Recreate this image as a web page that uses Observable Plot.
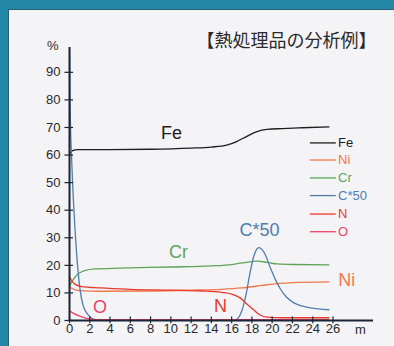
<!DOCTYPE html>
<html>
<head>
<meta charset="utf-8">
<script src="https://cdn.jsdelivr.net/npm/d3@7"></script>
<script src="https://cdn.jsdelivr.net/npm/@observablehq/plot@0.6"></script>
<style>
  html, body { margin: 0; padding: 0; width: 394px; height: 346px; overflow: hidden; }
  body { background: #2387a6; position: relative; font-family: "Liberation Sans", Arial, sans-serif; }
  #panel { position: absolute; left: 8px; top: 9px; right: 0; bottom: 0; background: #f4f3f6;
           border-left: 1px solid #2c5f76; border-top: 1px solid #2c5f76; }
  #title { position: absolute; left: 186px; top: 26px; width: 201px; text-align: center;
           font-family: "Noto Sans CJK JP", sans-serif; font-size: 18px; line-height: 26px; color: #2a2a2a; white-space: nowrap; }
  #chart { position: absolute; left: 0; top: 0; }
</style>
</head>
<body>
<div id="panel"></div>
<div id="title">【熱処理品の分析例】</div>
<div id="chart"></div>
<script>
// Series: [distance (µm), percent]
const fe = [[0,60.5],[0.3,61.6],[0.8,62],[4,62],[8,62.1],[12,62.5],[14,62.9],[15.5,63.6],[16.5,64.9],[17.5,66.8],[18.5,68.5],[19.5,69.3],[21,69.6],[23,69.9],[25.6,70.2]];
const ni = [[0,12.2],[0.3,11.5],[1,10.8],[3,10.6],[8,10.7],[12,11],[15,11.3],[17,11.8],[19,12.7],[20.5,13.4],[22,13.7],[25.6,14]];
const cr = [[0,12.5],[0.4,15],[0.9,17],[1.5,18.1],[2.5,18.7],[5,19],[10,19.4],[14,19.8],[16,20.3],[17.3,21],[18.5,21.5],[19.5,21.1],[20.5,20.5],[22,20.3],[25.6,20.2]];
const c50 = [[0,99],[0.05,80],[0.25,55],[0.5,36],[0.75,22],[1.05,11],[1.3,6],[1.5,4],[1.8,2.2],[2.2,0.8],[2.6,0.3],[16.4,0.3],[16.9,2.5],[17.4,9],[17.8,17],[18.2,23.5],[18.7,26.4],[19.3,24],[19.8,19.3],[20.3,15],[20.8,11.5],[21.4,8.5],[22.1,6.5],[23,5.2],[23.8,4.6],[25.6,3.9]];
const n = [[0,16],[0.2,14.5],[0.6,13],[1.2,12.3],[3,11.8],[6,11.3],[10,11],[13,10.7],[15,10.2],[16,9.6],[16.8,8.3],[17.5,6],[18.2,3.8],[18.8,2],[19.5,1.2],[21,1],[25.6,1]];
const o = [[0,3.5],[0.4,2.6],[1,1.6],[1.6,0.9],[2.2,0.5],[3,0.3],[25.6,0.3]];

const seriesNames = ["Fe", "Ni", "Cr", "C*50", "N", "O"];
const seriesData = [fe, ni, cr, c50, n, o];
const seriesColors = ["#1e1e1e", "#f2784b", "#5ea45c", "#4f7eaf", "#e83a2c", "#ec4467"];

const xTicks = [0,2,4,6,8,10,12,14,16,18,20,22,24,26];
const yTicks = [0,10,20,30,40,50,60,70,80,90];

// In-chart labels: [text, x, y]
const labels = [["Fe",10.06,67.9],["Cr",10.75,24.8],["C*50",18.74,32.6],["Ni",27.37,14.5],["O",3.0,4.9],["N",14.9,5.1]];
const labelColors = ["#1e1e1e","#5ea45c","#4f7eaf","#f2784b","#ec4467","#e83a2c"];

// Legend rows (y in data units)
const legendY = [64.4, 58.2, 51.7, 45.3, 38.6, 32.2];

const axisColor = "#1b2536";

const marks = [];
seriesData.forEach((d, i) => {
  marks.push(Plot.line(d, {x: d => d[0], y: d => d[1], stroke: seriesColors[i], strokeWidth: 1.3, curve: "monotone-x", clip: true}));
});
// axes lines
marks.push(Plot.ruleX([0], {y1: 0, y2: 99, stroke: axisColor, strokeWidth: 2}));
marks.push(Plot.ruleY([0], {x1: 0, x2: 30, stroke: axisColor, strokeWidth: 2}));
// crossing tick marks
marks.push(Plot.ruleY(yTicks, {x1: -0.45, x2: 0.4, stroke: axisColor, strokeWidth: 1.2}));
marks.push(Plot.ruleX(xTicks, {y1: -1.2, y2: 1.3, stroke: axisColor, strokeWidth: 1.2}));
marks.push(Plot.axisY(yTicks, {tickSize: 0, tickPadding: 9, label: null, fontSize: 13, fill: "#2a2a2a"}));
marks.push(Plot.axisX(xTicks, {tickSize: 0, tickPadding: 3, label: null, fontSize: 13, fill: "#2a2a2a"}));
marks.push(Plot.text(["%"], {x: -1.65, y: 99.5, text: d => d, fontSize: 13, fill: "#2a2a2a"}));
marks.push(Plot.text(["m"], {x: 28.7, y: -3.3, text: d => d, fontSize: 13, fill: "#2a2a2a"}));
// in-chart labels
marks.push(Plot.text(labels, {x: d => d[1], y: d => d[2], text: d => d[0], fill: (d, i) => labelColors[i], fontSize: 18}));
// legend
marks.push(Plot.ruleY(legendY, {x1: 23.77, x2: 26.33, stroke: (d, i) => seriesColors[i], strokeWidth: 1.3}));
marks.push(Plot.text(legendY, {x: 26.5, y: d => d, text: (d, i) => seriesNames[i], fill: (d, i) => seriesColors[i], textAnchor: "start", fontSize: 13}));

const chart = Plot.plot({
  width: 394,
  height: 346,
  marginLeft: 69,
  marginRight: 21,
  marginTop: 47,
  marginBottom: 26,
  x: {domain: [0, 30]},
  y: {domain: [0, 99]},
  color: {type: "identity"},
  style: {background: "transparent", fontFamily: "'Liberation Sans', Arial, sans-serif", color: "#2a2a2a", overflow: "visible"},
  marks
});
document.getElementById("chart").appendChild(chart);
</script>
</body>
</html>
